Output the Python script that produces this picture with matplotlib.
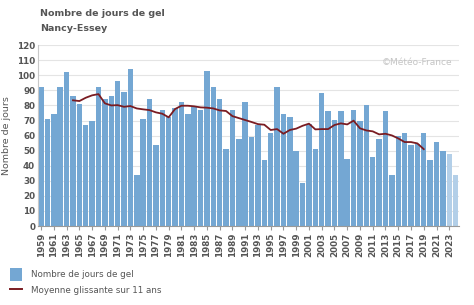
import matplotlib
matplotlib.use("Agg")
import matplotlib.pyplot as plt
from matplotlib.patches import Patch
from matplotlib.lines import Line2D

years = list(range(1959, 2025))
gel = [92, 71, 74, 92, 102, 86, 81, 67, 70, 92,
       84, 86, 96, 89, 104, 34, 71, 84, 54, 77,
       72, 78, 82, 74, 79, 77, 103, 92, 84, 51,
       77, 58, 82, 59, 67, 44, 62, 92, 74, 72.5,
       49.5, 28.5, 68, 51, 88, 76, 70.5, 76, 44.5, 77,
       70, 80.5, 45.5, 57.5, 76, 34, 59.5, 61.5, 53.5, 54.5,
       61.5, 44, 55.5, 49.5, 47.5, 34]
provisional = [2023, 2024]

ma_years = list(range(1964, 2020))
ma = [83.4, 82.9, 85.1, 86.7, 87.5, 81.4, 80.0, 80.2, 79.1, 79.6,
      78.0, 77.4, 76.9, 75.4, 74.5, 72.1, 77.6, 79.8, 79.8, 79.4,
      78.7, 78.5, 78.0, 76.7, 76.3, 72.9, 71.6, 70.3, 69.0, 67.6,
      67.2, 63.7, 64.3, 61.2, 63.7, 64.6, 66.5, 67.9, 64.1, 64.3,
      64.3, 67.0, 68.1, 67.4, 69.9, 64.8, 63.4, 62.8, 60.8, 61.2,
      60.1, 58.1, 55.7, 55.7, 54.8, 51.0]

bar_color = "#74a7d3"
light_color = "#b3cfe8"
line_color = "#7a1c22"
text_color = "#555555"

fig = plt.figure(figsize=(4.74, 3.05), dpi=100)
ax = fig.add_axes([0.080, 0.259, 0.888, 0.593])

colors = [light_color if y in provisional else bar_color for y in years]
ax.bar(years, gel, width=0.86, color=colors, zorder=2)
ax.plot(ma_years, ma, color=line_color, linewidth=1.3, zorder=3)

ax.set_ylim(0, 120)
ax.set_xlim(1958.5, 2024.5)
ax.set_yticks(range(0, 121, 10))
ax.set_xticks(years[::2])
ax.set_xticklabels([str(y) for y in years[::2]], rotation=90)
ax.tick_params(axis="both", labelsize=6.3, colors=text_color, length=0, pad=2)
ax.tick_params(axis="x", length=3, color="#999999", pad=2)
for lbl in ax.get_xticklabels() + ax.get_yticklabels():
    lbl.set_fontweight("bold")
ax.grid(axis="y", color="#e4e4e4", linewidth=0.8, zorder=0)
ax.set_axisbelow(True)
for s in ["top", "right"]:
    ax.spines[s].set_visible(False)
ax.spines["left"].set_color("#c8c8c8")
ax.spines["bottom"].set_color("#999999")
ax.set_ylabel("Nombre de jours", fontsize=6.8, color=text_color)
ax.yaxis.set_label_coords(-0.064, 0.5)

ax.text(0.985, 0.905, "©Météo-France", transform=ax.transAxes, ha="right",
        va="center", fontsize=6.5, color="#c4c4c4")

fig.text(0.084, 0.955, "Nombre de jours de gel", fontsize=6.8, fontweight="bold",
         color=text_color, va="center")
fig.text(0.084, 0.905, "Nancy-Essey", fontsize=6.8, fontweight="bold",
         color=text_color, va="center")

handles = [Patch(facecolor=bar_color, edgecolor="none"),
           Line2D([0], [0], color=line_color, linewidth=1.4)]
fig.legend(handles, ["Nombre de jours de gel", "Moyenne glissante sur 11 ans"],
           loc="lower left", bbox_to_anchor=(0.005, 0.0), frameon=False,
           fontsize=6.3, labelcolor=text_color, handlelength=1.3,
           handleheight=1.9, labelspacing=0.4, handletextpad=1.1)

fig.savefig("out.png", dpi=100)
